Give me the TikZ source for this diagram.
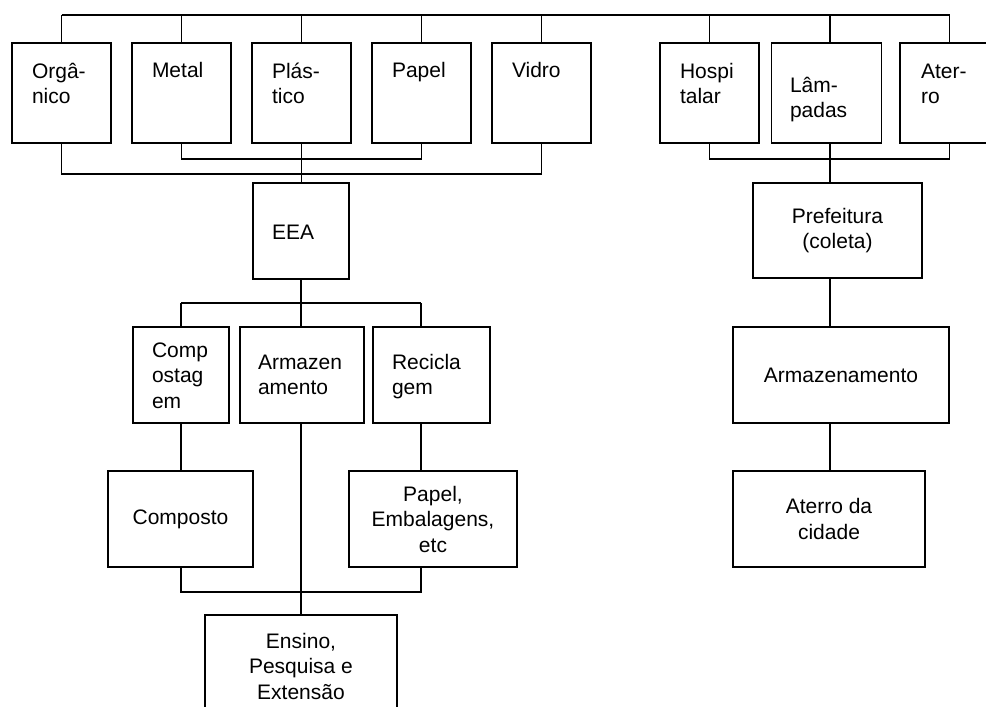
\documentclass[tikz,border=0pt]{standalone}
\usepackage{fontspec}
\setmainfont{Liberation Sans}
\newcommand\diagfont{\fontsize{21}{25.5}\selectfont}
\begin{document}
\begin{tikzpicture}[x=1pt,y=-1pt,
  box/.style={draw,line width=1.8pt,inner sep=0pt,outer sep=0pt,align=center,font=\diagfont},
  txt/.style={anchor=base west,inner sep=0pt,outer sep=0pt,font=\diagfont},
  wire/.style={line width=1.5pt}]
\useasboundingbox (0,0) rectangle (986,707);
\clip (0,0) rectangle (986,707);
% top row boxes
\node[box,minimum width=99pt,minimum height=100pt] (org) at (61.5,93) {};
\node[box,minimum width=99pt,minimum height=100pt] (met) at (181.5,93) {};
\node[box,minimum width=99pt,minimum height=100pt] (pla) at (301.5,93) {};
\node[box,minimum width=99pt,minimum height=100pt] (pap) at (421.5,93) {};
\node[box,minimum width=99pt,minimum height=100pt] (vid) at (541.5,93) {};
\node[box,minimum width=99pt,minimum height=100pt] (hos) at (709.5,93) {};
\node[box,minimum width=110pt,minimum height=100pt,line width=1.4pt] (lam) at (826.5,93) {};
\node[box,minimum width=99pt,minimum height=100pt] (ate) at (949.5,93) {};
% left branch
\node[box,minimum width=96pt,minimum height=96pt] (eea) at (301,231) {};
\node[box,minimum width=96pt,minimum height=96pt] (cpg) at (181,375) {};
\node[box,minimum width=124pt,minimum height=96pt] (arm) at (302,375) {};
\node[box,minimum width=117pt,minimum height=96pt] (rec) at (431.5,375) {};
\node[box,minimum width=145pt,minimum height=96pt] (cmp) at (180.5,519) {Composto};
\node[box,minimum width=168pt,minimum height=96pt] (pem) at (433,519) {Papel,\\Embalagens,\\etc};
\node[box,minimum width=192pt,minimum height=102pt] (ens) at (301,666) {Ensino,\\Pesquisa e\\Extensão};
% right branch
\node[box,minimum width=169pt,minimum height=95pt] (pre) at (837.5,230.5) {Prefeitura\\(coleta)};
\node[box,minimum width=216pt,minimum height=96pt] (arr) at (841,375) {Armazenamento};
\node[box,minimum width=192pt,minimum height=96pt] (atc) at (829,519) {Aterro da\\cidade};
% left-aligned texts
\node[txt] (org-t) at (32,78) {\begin{tabular}[t]{@{}l@{}}Orgâ-\\nico\end{tabular}};
\node[txt] (met-t) at (152,77) {Metal};
\node[txt] (pla-t) at (272,78) {\begin{tabular}[t]{@{}l@{}}Plás-\\tico\end{tabular}};
\node[txt] (pap-t) at (392,77) {Papel};
\node[txt] (vid-t) at (512,77) {Vidro};
\node[txt] (hos-t) at (680,78) {\begin{tabular}[t]{@{}l@{}}Hospi\\talar\end{tabular}};
\node[txt] (lam-t) at (790,92) {\begin{tabular}[t]{@{}l@{}}Lâm-\\padas\end{tabular}};
\node[txt] (ate-t) at (921,78) {\begin{tabular}[t]{@{}l@{}}Ater-\\ro\end{tabular}};
\node[txt] (eea-t) at (272,239) {EEA};
\node[txt] (cpg-t) at (152,357) {\begin{tabular}[t]{@{}l@{}}Comp\\ostag\\em\end{tabular}};
\node[txt] (arm-t) at (258,369) {\begin{tabular}[t]{@{}l@{}}Armazen\\amento\end{tabular}};
\node[txt] (rec-t) at (392,369) {\begin{tabular}[t]{@{}l@{}}Recicla\\gem\end{tabular}};
% helper coordinates
\coordinate (tb) at (0,15);
\coordinate (b1) at (0,159);
\coordinate (b2) at (0,174);
\coordinate (b3) at (0,303);
\coordinate (b4) at (0,592);
\coordinate (rx) at (830,0);
\coordinate (xl) at (181,0);
\coordinate (xm) at (301,0);
\coordinate (xr) at (421,0);
% top bus
\draw[wire] (org.north |- tb) -- (ate.north |- tb);
\foreach \n in {org,met,pla,pap,vid,hos,ate} \draw[wire] (\n.north) -- (\n.north |- tb);
\draw[wire] (lam.north -| rx) -- (tb -| rx);
% lower buses of top row
\draw[wire] (met.south) -- (met.south |- b1) -- (pap.south |- b1) -- (pap.south);
\draw[wire] (org.south) -- (org.south |- b2) -- (vid.south |- b2) -- (vid.south);
\draw[wire] (pla.south) -- (pla.south |- eea.north);
\draw[wire] (hos.south) -- (hos.south |- b1) -- (ate.south |- b1) -- (ate.south);
% right chain
\draw[wire] (lam.south -| rx) -- (pre.north -| rx);
\draw[wire] (pre.south -| rx) -- (arr.north -| rx);
\draw[wire] (arr.south -| rx) -- (atc.north -| rx);
% EEA branch
\draw[wire] (eea.south) -- (eea.south |- b3);
\draw[wire] (b3 -| xl) -- (b3 -| xr);
\draw[wire] (b3 -| xl) -- (cpg.north -| xl);
\draw[wire] (b3 -| xm) -- (arm.north -| xm);
\draw[wire] (b3 -| xr) -- (rec.north -| xr);
\draw[wire] (cpg.south -| xl) -- (cmp.north -| xl);
\draw[wire] (rec.south -| xr) -- (pem.north -| xr);
\draw[wire] (cmp.south -| xl) -- (b4 -| xl) -- (b4 -| xr) -- (pem.south -| xr);
\draw[wire] (arm.south -| xm) -- (ens.north -| xm);
\end{tikzpicture}
\end{document}
